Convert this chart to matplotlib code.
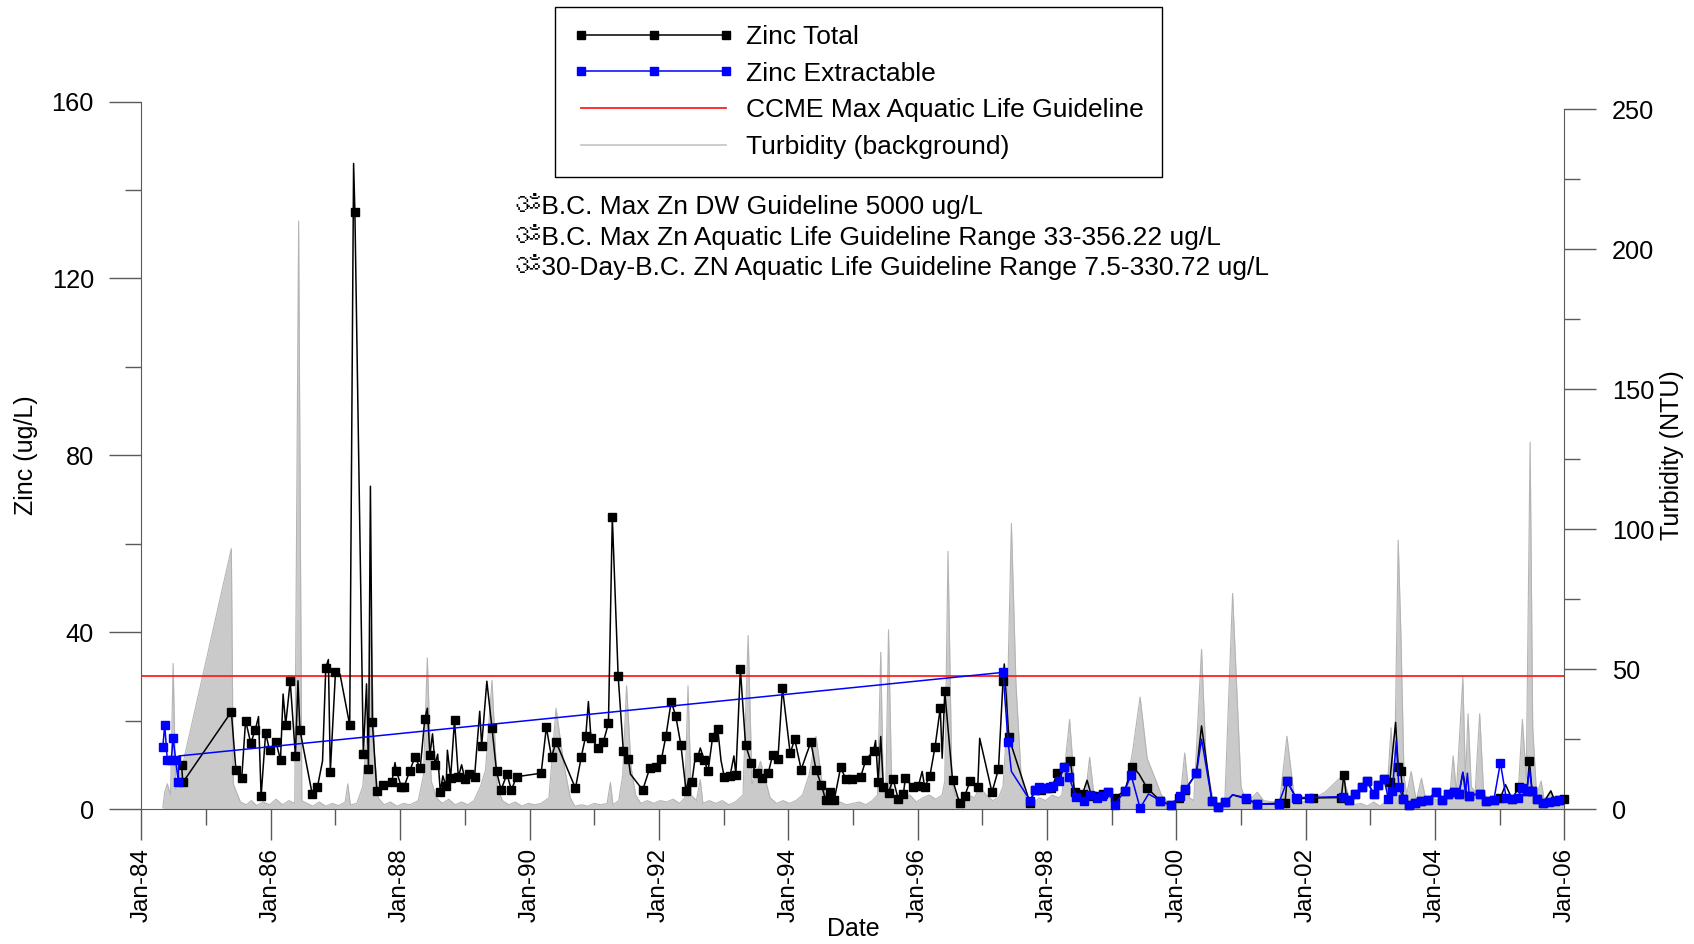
import numpy as np
import matplotlib
matplotlib.use("Agg")  # headless
import matplotlib.pyplot as plt
from matplotlib.lines import Line2D
from matplotlib.ticker import MultipleLocator, FuncFormatter
from matplotlib import font_manager
from matplotlib.ft2font import FT2Font

# (decimal year, ug/L, marker shown)  -- 0 = vertex on the line without a marker
zinc_total = [
    (1984.62, 10.0, 1), (1984.64, 6.0, 1), (1985.39, 22.0, 1), (1985.46, 8.9, 1),
    (1985.55, 6.9, 1), (1985.61, 20.0, 1), (1985.69, 14.9, 1), (1985.76, 17.9, 1),
    (1985.81, 20.9, 0), (1985.85, 2.9, 1), (1985.92, 17.2, 1), (1985.98, 13.3, 1),
    (1986.08, 15.1, 1), (1986.15, 11.1, 1), (1986.19, 26.0, 0), (1986.23, 19.1, 1),
    (1986.30, 28.9, 1), (1986.38, 12.1, 1), (1986.42, 29.0, 0), (1986.45, 17.9, 1),
    (1986.64, 3.4, 1), (1986.72, 4.9, 1), (1986.80, 10.9, 0), (1986.85, 32.0, 1),
    (1986.89, 33.8, 0), (1986.92, 8.4, 1), (1987.00, 31.0, 1), (1987.07, 30.5, 0),
    (1987.22, 19.0, 1), (1987.28, 146.0, 0), (1987.30, 135.0, 1), (1987.43, 12.4, 1),
    (1987.48, 28.3, 0), (1987.51, 9.0, 1), (1987.54, 73.0, 0), (1987.57, 19.6, 1),
    (1987.64, 4.0, 1), (1987.73, 5.5, 1), (1987.87, 6.0, 1), (1987.92, 10.5, 0),
    (1987.94, 8.7, 1), (1988.02, 4.9, 1), (1988.06, 5.0, 1), (1988.15, 8.7, 1),
    (1988.23, 11.8, 1), (1988.31, 9.2, 1), (1988.38, 20.3, 1), (1988.42, 22.8, 0),
    (1988.46, 12.2, 1), (1988.50, 17.0, 0), (1988.54, 10.0, 1), (1988.58, 12.4, 0),
    (1988.62, 3.9, 1), (1988.66, 7.5, 0), (1988.71, 5.1, 1), (1988.73, 13.3, 0),
    (1988.78, 7.0, 1), (1988.84, 20.1, 1), (1988.90, 7.2, 1), (1988.95, 10.0, 0),
    (1989.00, 6.8, 1), (1989.07, 7.9, 1), (1989.15, 7.3, 1), (1989.23, 22.1, 0),
    (1989.26, 14.3, 1), (1989.34, 28.9, 0), (1989.42, 18.3, 1), (1989.49, 8.5, 1),
    (1989.56, 4.3, 1), (1989.65, 7.9, 1), (1989.72, 4.3, 1), (1989.80, 7.3, 1),
    (1990.18, 8.1, 1), (1990.26, 18.5, 1), (1990.34, 11.7, 1), (1990.41, 15.2, 1),
    (1990.71, 4.7, 1), (1990.80, 11.8, 1), (1990.87, 16.6, 1), (1990.91, 24.3, 0),
    (1990.95, 16.1, 1), (1991.06, 13.8, 1), (1991.14, 15.1, 1), (1991.22, 19.4, 1),
    (1991.28, 66.0, 1), (1991.37, 30.1, 1), (1991.45, 13.2, 1), (1991.53, 11.2, 1),
    (1991.56, 7.9, 0), (1991.75, 4.3, 1), (1991.86, 9.3, 1), (1991.95, 9.6, 1),
    (1992.04, 11.3, 1), (1992.11, 16.6, 1), (1992.19, 24.3, 1), (1992.26, 21.1, 1),
    (1992.34, 14.5, 1), (1992.42, 4.1, 1), (1992.46, 6.8, 0), (1992.51, 6.0, 1),
    (1992.55, 10.5, 0), (1992.60, 11.7, 1), (1992.64, 13.8, 0), (1992.70, 11.1, 1),
    (1992.76, 8.5, 1), (1992.83, 16.2, 1), (1992.91, 18.2, 1), (1992.96, 11.0, 0),
    (1993.01, 7.3, 1), (1993.10, 7.5, 1), (1993.16, 12.0, 0), (1993.19, 7.8, 1),
    (1993.26, 31.6, 1), (1993.34, 14.5, 1), (1993.43, 10.3, 1), (1993.51, 8.1, 1),
    (1993.60, 7.0, 1), (1993.69, 8.1, 1), (1993.76, 12.3, 1), (1993.84, 11.2, 1),
    (1993.91, 27.4, 1), (1994.03, 12.6, 1), (1994.10, 15.8, 1), (1994.20, 8.9, 1),
    (1994.28, 12.3, 0), (1994.35, 15.1, 1), (1994.43, 8.8, 1), (1994.51, 5.5, 1),
    (1994.58, 2.0, 1), (1994.64, 3.8, 1), (1994.71, 2.0, 1), (1994.81, 9.4, 1),
    (1994.89, 6.8, 1), (1994.98, 6.8, 1), (1995.12, 7.3, 1), (1995.20, 11.1, 1),
    (1995.32, 13.2, 1), (1995.35, 15.5, 0), (1995.39, 6.2, 1), (1995.43, 16.4, 0),
    (1995.47, 5.0, 1), (1995.55, 3.6, 1), (1995.62, 6.8, 1), (1995.70, 2.3, 1),
    (1995.78, 3.4, 1), (1995.81, 6.9, 1), (1995.93, 4.9, 1), (1996.01, 5.1, 1),
    (1996.07, 8.5, 0), (1996.11, 5.0, 1), (1996.19, 7.5, 1), (1996.27, 14.1, 1),
    (1996.35, 22.8, 1), (1996.38, 11.5, 0), (1996.42, 26.6, 1), (1996.54, 6.6, 1),
    (1996.65, 1.3, 1), (1996.73, 3.0, 1), (1996.81, 6.3, 1), (1996.93, 5.0, 1),
    (1996.96, 16.0, 0), (1997.15, 3.8, 1), (1997.25, 9.0, 1), (1997.32, 28.9, 1),
    (1997.34, 32.8, 0), (1997.41, 16.2, 1), (1997.74, 1.3, 1), (1997.81, 4.3, 1),
    (1997.91, 4.3, 1), (1998.00, 4.7, 1), (1998.07, 4.7, 1), (1998.16, 8.1, 1),
    (1998.27, 9.4, 1), (1998.36, 10.8, 1), (1998.43, 3.8, 1), (1998.55, 3.4, 1),
    (1998.62, 6.5, 0), (1998.69, 2.9, 1), (1998.77, 3.0, 1), (1998.86, 3.4, 1),
    (1998.95, 3.8, 1), (1999.05, 2.6, 1), (1999.20, 4.1, 1), (1999.32, 9.6, 1),
    (1999.42, 8.0, 0), (1999.55, 4.7, 1), (1999.75, 1.9, 1), (1999.92, 0.8, 1),
    (2000.04, 2.6, 1), (2000.14, 4.3, 1), (2000.31, 8.1, 1), (2000.39, 18.8, 0),
    (2000.55, 1.9, 1), (2000.64, 0.5, 1), (2000.76, 1.5, 1), (2000.87, 3.2, 0),
    (2001.08, 2.3, 1), (2001.25, 1.1, 1), (2001.58, 1.3, 1), (2001.68, 1.3, 1),
    (2001.71, 6.3, 1), (2001.86, 2.3, 1), (2002.11, 2.5, 1), (2002.55, 2.6, 1),
    (2002.59, 7.8, 1), (2002.63, 2.6, 0), (2002.67, 2.0, 1), (2002.76, 3.5, 1),
    (2002.87, 5.0, 1), (2002.95, 6.3, 1), (2003.05, 3.4, 1), (2003.12, 5.4, 1),
    (2003.21, 6.8, 1), (2003.30, 6.2, 1), (2003.39, 19.6, 0), (2003.43, 9.6, 1),
    (2003.47, 8.5, 1), (2003.51, 2.3, 1), (2003.60, 0.8, 1), (2003.69, 1.3, 1),
    (2003.79, 1.7, 1), (2003.89, 2.0, 1), (2004.01, 3.9, 1), (2004.10, 2.1, 1),
    (2004.20, 3.4, 1), (2004.29, 3.9, 1), (2004.37, 3.4, 1), (2004.43, 8.3, 0),
    (2004.48, 4.0, 0), (2004.53, 3.0, 1), (2004.69, 3.5, 1), (2004.79, 1.9, 1),
    (2004.91, 2.1, 1), (2005.01, 2.5, 1), (2005.09, 5.5, 0), (2005.19, 2.3, 1),
    (2005.30, 5.0, 1), (2005.42, 4.1, 1), (2005.46, 10.8, 1), (2005.50, 4.1, 1),
    (2005.57, 2.3, 1), (2005.67, 1.3, 1), (2005.79, 4.1, 0), (2005.85, 1.9, 1),
    (2005.92, 2.0, 1), (2006.00, 2.3, 1),
]

zinc_extractable = [
    (1984.33, 14.0, 1), (1984.36, 19.0, 1), (1984.40, 11.0, 1), (1984.46, 11.0, 1),
    (1984.49, 16.0, 1), (1984.53, 11.0, 1), (1984.57, 6.0, 1), (1984.58, 12.0, 0),
    (1997.32, 30.9, 1), (1997.40, 15.1, 1), (1997.45, 8.5, 0), (1997.74, 1.9, 1),
    (1997.81, 4.3, 1), (1997.88, 5.0, 1), (1997.96, 4.8, 1), (1998.05, 5.0, 1),
    (1998.09, 5.2, 1), (1998.18, 6.4, 1), (1998.27, 9.4, 1), (1998.34, 7.2, 1),
    (1998.45, 2.8, 1), (1998.57, 1.7, 1), (1998.66, 3.2, 1), (1998.77, 2.5, 1),
    (1998.85, 3.0, 1), (1998.95, 3.9, 1), (1999.05, 1.0, 1), (1999.20, 4.1, 1),
    (1999.30, 7.7, 1), (1999.44, 0.2, 1), (1999.57, 3.4, 0), (1999.75, 1.9, 1),
    (1999.91, 0.8, 1), (2000.05, 3.0, 1), (2000.14, 4.5, 1), (2000.31, 8.1, 1),
    (2000.39, 15.8, 0), (2000.55, 1.9, 1), (2000.64, 0.5, 1), (2000.76, 1.5, 1),
    (2000.87, 3.2, 0), (2001.07, 2.6, 1), (2001.25, 1.1, 1), (2001.58, 1.1, 1),
    (2001.71, 6.3, 1), (2001.85, 2.6, 1), (2002.05, 2.6, 1), (2002.57, 2.8, 1),
    (2002.67, 2.0, 1), (2002.76, 3.5, 1), (2002.87, 5.0, 1), (2002.95, 6.3, 1),
    (2003.05, 3.4, 1), (2003.12, 5.4, 1), (2003.21, 6.8, 1), (2003.28, 2.3, 1),
    (2003.34, 4.0, 1), (2003.40, 15.4, 0), (2003.44, 4.9, 1), (2003.51, 2.3, 1),
    (2003.60, 0.8, 1), (2003.69, 1.3, 1), (2003.79, 1.7, 1), (2003.89, 2.0, 1),
    (2004.01, 3.9, 1), (2004.10, 2.1, 1), (2004.20, 3.4, 1), (2004.29, 3.9, 1),
    (2004.37, 3.4, 1), (2004.43, 8.3, 0), (2004.47, 3.5, 0), (2004.50, 8.1, 0),
    (2004.53, 3.0, 1), (2004.69, 3.5, 1), (2004.79, 1.9, 1), (2004.91, 2.1, 1),
    (2005.01, 10.5, 1), (2005.10, 2.5, 1), (2005.19, 2.3, 1), (2005.28, 2.6, 1),
    (2005.35, 4.7, 1), (2005.42, 4.1, 1), (2005.46, 9.0, 0), (2005.50, 4.1, 1),
    (2005.57, 2.3, 1), (2005.67, 1.3, 1), (2005.76, 1.5, 1), (2005.85, 1.9, 1),
    (2005.92, 2.0, 1),
]

# (decimal year, NTU)
turbidity = [
    (1984.33, 0.5), (1984.36, 6), (1984.40, 9), (1984.45, 5), (1984.49, 52),
    (1984.53, 7), (1984.59, 11), (1985.39, 93), (1985.42, 9), (1985.47, 6),
    (1985.53, 2.5), (1985.62, 1.5), (1985.70, 3), (1985.78, 1.2), (1985.88, 2.5),
    (1985.98, 1.5), (1986.08, 3.5), (1986.18, 1.5), (1986.28, 3), (1986.37, 2),
    (1986.43, 210), (1986.48, 3), (1986.56, 2), (1986.65, 1), (1986.75, 2.5),
    (1986.85, 1), (1986.95, 2), (1987.05, 1.2), (1987.15, 2.5), (1987.19, 9),
    (1987.23, 1.5), (1987.33, 2), (1987.42, 8), (1987.50, 30), (1987.55, 65),
    (1987.60, 20), (1987.66, 4), (1987.75, 1.5), (1987.85, 2.5), (1987.95, 1),
    (1988.05, 2), (1988.15, 1.5), (1988.28, 3), (1988.36, 12), (1988.42, 54),
    (1988.48, 10), (1988.56, 4), (1988.65, 2), (1988.75, 3.5), (1988.85, 1.5),
    (1988.95, 2.5), (1989.05, 1.5), (1989.14, 3), (1989.24, 8), (1989.32, 14),
    (1989.42, 46), (1989.50, 8), (1989.58, 3), (1989.68, 1.5), (1989.78, 2.5),
    (1989.88, 1), (1989.98, 2), (1990.08, 1.5), (1990.18, 2), (1990.30, 4),
    (1990.41, 36), (1990.53, 16), (1990.63, 4), (1990.70, 1), (1990.80, 1.5),
    (1990.90, 1), (1991.00, 2), (1991.10, 1.5), (1991.20, 2), (1991.25, 9.5),
    (1991.29, 1.5), (1991.38, 3), (1991.44, 12), (1991.50, 44), (1991.57, 15),
    (1991.64, 5), (1991.72, 2), (1991.82, 3), (1991.92, 2), (1992.02, 3),
    (1992.12, 2.5), (1992.22, 3.5), (1992.32, 2), (1992.40, 4), (1992.45, 44),
    (1992.50, 5), (1992.58, 3), (1992.64, 10.5), (1992.68, 2), (1992.78, 3),
    (1992.88, 2), (1992.98, 3), (1993.08, 1.5), (1993.18, 2.5), (1993.30, 5),
    (1993.38, 62), (1993.44, 9), (1993.50, 12), (1993.57, 17), (1993.64, 11),
    (1993.72, 4), (1993.82, 2), (1993.92, 3), (1994.02, 2), (1994.12, 3),
    (1994.22, 5), (1994.32, 12), (1994.43, 26), (1994.52, 10), (1994.60, 3),
    (1994.70, 1.5), (1994.80, 2.5), (1994.90, 1.5), (1995.00, 2), (1995.10, 2.5),
    (1995.20, 1.5), (1995.30, 3), (1995.38, 5), (1995.43, 56), (1995.47, 6),
    (1995.51, 8), (1995.55, 64), (1995.60, 7), (1995.68, 2.5), (1995.78, 3.5),
    (1995.88, 5), (1995.98, 2.5), (1996.08, 4), (1996.18, 5), (1996.28, 3.5),
    (1996.38, 5), (1996.42, 10), (1996.47, 92), (1996.53, 10), (1996.58, 5),
    (1996.68, 3), (1996.78, 5), (1996.88, 4), (1996.96, 8), (1997.06, 5),
    (1997.16, 3), (1997.25, 4), (1997.32, 8), (1997.38, 30), (1997.45, 102),
    (1997.52, 45), (1997.60, 12), (1997.68, 3), (1997.78, 2), (1997.88, 4),
    (1997.98, 3), (1998.08, 5), (1998.18, 4), (1998.23, 5), (1998.35, 32),
    (1998.43, 6.5), (1998.52, 3), (1998.59, 4), (1998.66, 18.5), (1998.73, 4),
    (1998.83, 3), (1998.93, 4.5), (1999.03, 3), (1999.12, 4), (1999.20, 5),
    (1999.32, 20), (1999.44, 40), (1999.55, 18), (1999.67, 11), (1999.77, 5),
    (1999.88, 2), (1999.98, 3), (2000.06, 4), (2000.13, 20), (2000.20, 4),
    (2000.27, 3), (2000.39, 57), (2000.46, 17), (2000.57, 3), (2000.66, 2),
    (2000.75, 3), (2000.87, 77), (2001.00, 8), (2001.07, 3), (2001.17, 4),
    (2001.25, 6), (2001.35, 3), (2001.48, 2.5), (2001.60, 3), (2001.71, 26),
    (2001.83, 3), (2001.95, 2.5), (2002.06, 3), (2002.30, 6), (2002.57, 12),
    (2002.66, 5), (2002.74, 1.5), (2002.85, 2), (2002.95, 1), (2003.05, 2.5),
    (2003.15, 1), (2003.25, 3), (2003.32, 29), (2003.37, 6), (2003.43, 96),
    (2003.47, 64), (2003.52, 12), (2003.56, 5), (2003.63, 13.4), (2003.71, 3),
    (2003.79, 11), (2003.86, 3), (2003.96, 4), (2004.06, 3), (2004.16, 4),
    (2004.23, 5), (2004.28, 19), (2004.33, 6), (2004.43, 47), (2004.47, 10),
    (2004.51, 34), (2004.56, 8), (2004.62, 6), (2004.69, 34), (2004.75, 6),
    (2004.82, 3), (2004.92, 2.5), (2005.02, 2), (2005.12, 3), (2005.20, 2.5),
    (2005.28, 3.5), (2005.35, 32), (2005.41, 11), (2005.47, 131), (2005.51, 29),
    (2005.57, 5), (2005.64, 10), (2005.69, 3), (2005.79, 6.5), (2005.87, 2.4),
    (2005.95, 1.5), (2006.00, 1),
]

ccme_guideline = 30  # ug/L
notes = [
    "\u0950B.C. Max Zn DW Guideline 5000 ug/L",
    "\u0950B.C. Max Zn Aquatic Life Guideline Range 33-356.22 ug/L",
    "\u095030-Day-B.C. ZN Aquatic Life Guideline Range 7.5-330.72 ug/L",
]


def find_family(ch):
    # first installed font that has the glyph
    for f in font_manager.fontManager.ttflist:
        try:
            if ord(ch) in FT2Font(f.fname).get_charmap():
                return f.name
        except Exception:
            pass
    return None


plt.rcParams["font.family"] = ["Liberation Sans", "DejaVu Sans"]
axis_col = "#5a5a5a"

zt = np.array(zinc_total)
ze = np.array(zinc_extractable)
tb = np.array(turbidity)

fig = plt.figure(figsize=(16.94, 9.44), dpi=100)
ax = fig.add_axes([0.0835, 0.1430, 0.8400, 0.7494])
ax2 = ax.twinx()
ax.set_zorder(ax2.get_zorder() + 1)
ax.patch.set_visible(False)

# turbidity in the background
ax2.fill_between(tb[:, 0], tb[:, 1], color="#cacaca", lw=0)
ax2.plot(tb[:, 0], tb[:, 1], color="#b4b4b4", lw=0.8)

ax.axhline(ccme_guideline, color="#ff2020", lw=1.3, zorder=2)

m = zt[:, 2] == 1
ax.plot(zt[:, 0], zt[:, 1], color="black", lw=1.1, zorder=3, clip_on=False)
ax.plot(zt[m, 0], zt[m, 1], "s", color="black", ms=5.5, zorder=3, clip_on=False)
m = ze[:, 2] == 1
ax.plot(ze[:, 0], ze[:, 1], color="blue", lw=1.1, zorder=4, clip_on=False)
ax.plot(ze[m, 0], ze[m, 1], "s", color="blue", ms=5.5, zorder=4, clip_on=False)

ax.set_xlim(1984, 2006)
ax.set_ylim(0, 160)
ax2.set_ylim(0, 252.7)

for a in (ax, ax2):
    a.spines["top"].set_visible(False)
    for s in a.spines.values():
        s.set_color(axis_col)
ax.spines["right"].set_visible(False)
ax2.spines["left"].set_visible(False)
ax2.spines["bottom"].set_visible(False)
ax.spines["left"].set_bounds(0, 160)
ax2.spines["right"].set_bounds(0, 250)

ax.xaxis.set_major_locator(MultipleLocator(2))
ax.xaxis.set_minor_locator(MultipleLocator(1))
ax.xaxis.set_major_formatter(FuncFormatter(lambda v, p: "Jan-%02d" % (int(round(v)) % 100)))
ax.yaxis.set_major_locator(MultipleLocator(40))
ax.yaxis.set_minor_locator(MultipleLocator(20))
ax2.yaxis.set_major_locator(MultipleLocator(50))
ax2.yaxis.set_minor_locator(MultipleLocator(25))

ax.tick_params(axis="x", which="major", length=22.5, width=1, pad=5.5,
               colors=axis_col, labelcolor="black", labelsize=17.5, labelrotation=90)
ax.tick_params(axis="x", which="minor", length=11.3, width=1, colors=axis_col)
for a in (ax, ax2):
    a.tick_params(axis="y", which="major", length=22.7, width=1, pad=11.5,
                  colors=axis_col, labelcolor="black", labelsize=18.3)
    a.tick_params(axis="y", which="minor", length=11.2, width=1, colors=axis_col)

ax.set_ylabel("Zinc (ug/L)", fontsize=18, va="center")
ax.yaxis.set_label_coords(-0.0812, 0.5)
ax2.set_ylabel("Turbidity (NTU)", fontsize=18, va="center")
ax2.yaxis.set_label_coords(1.0755, 0.5)
ax.set_xlabel("Date", fontsize=18, va="center")
ax.xaxis.set_label_coords(0.5, -0.1696)

handles = [
    Line2D([], [], color="black", lw=1.1, marker="s", ms=5.5),
    Line2D([], [], color="blue", lw=1.1, marker="s", ms=5.5),
    Line2D([], [], color="#ff2020", lw=1.3),
    Line2D([], [], color="#c8c8c8", lw=1.3),
]
labels = ["Zinc Total", "Zinc Extractable", "CCME Max Aquatic Life Guideline",
          "Turbidity (background)"]
leg = fig.legend(handles, labels, loc="upper left", bbox_to_anchor=(0.3276, 0.9931),
                 bbox_transform=fig.transFigure, borderaxespad=0, fontsize=19,
                 numpoints=3, handlelength=6.1, handletextpad=0.45,
                 labelspacing=0.48, borderpad=0.7, fancybox=False, framealpha=1)
leg.get_frame().set_edgecolor("black")
leg.get_frame().set_linewidth(1.0)

om_family = find_family("\u0950")
note_family = ["Liberation Sans"] + ([om_family] if om_family else ["DejaVu Sans"])
for i, line in enumerate(notes):
    fig.text(0.3040, 0.7815 - i * 0.0323, line, fontsize=19, ha="left", va="center",
             family=note_family)

fig.savefig("out.png", dpi=100)
